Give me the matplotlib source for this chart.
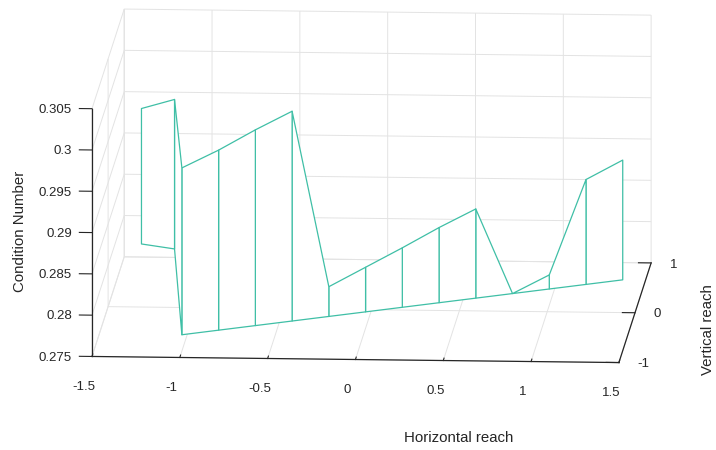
import numpy as np
import matplotlib
matplotlib.use('Agg')
import matplotlib.pyplot as plt

plt.rcParams['font.family'] = ['Liberation Sans', 'DejaVu Sans']

# sample points along the reach path
horiz = [-1.25, -1.07, -1.03, -0.83, -0.63, -0.43, -0.23, -0.03,
         0.17, 0.37, 0.57, 0.77, 0.97, 1.17, 1.37]
vert = [-0.655, -0.565, -0.545, -0.445, -0.345, -0.245, -0.145, -0.045,
        0.055, 0.155, 0.255, 0.355, 0.455, 0.555, 0.655]
cond_top = [0.3030, 0.3036, 0.2952, 0.2968, 0.2987, 0.3004, 0.2786, 0.2804,
            0.2822, 0.2841, 0.2858, 0.2750, 0.2767, 0.2877, 0.2895]
cond_base = [0.2866, 0.2855, 0.275, 0.275, 0.275, 0.275, 0.275, 0.275,
             0.275, 0.275, 0.275, 0.275, 0.275, 0.275, 0.275]

x_ticks = [-1.5, -1, -0.5, 0, 0.5, 1, 1.5]
x_labels = ['-1.5', '-1', '-0.5', '0', '0.5', '1', '1.5']
y_ticks = [-1, 0, 1]
y_labels = ['-1', '0', '1']
z_ticks = [0.275, 0.28, 0.285, 0.29, 0.295, 0.3, 0.305]
z_labels = ['0.275', '0.28', '0.285', '0.29', '0.295', '0.3', '0.305']

line_col = '#3fbfa6'
grid_col = '#e3e3e3'
axis_col = '#262626'
text_col = '#262626'

fig = plt.figure(figsize=(7.16, 4.5), dpi=100)
ax = fig.add_axes([0.1962, 0.0736, 0.6285, 1.0], projection='3d', proj_type='ortho')
ax.view_init(elev=10.9, azim=-86.5)
ax.set_box_aspect((1, 1, 0.478), zoom=1.70)

X = np.array([horiz, horiz])
Y = np.array([vert, vert])
Z = np.array([cond_top, cond_base])
surf = ax.plot_surface(X, Y, Z, rstride=1, cstride=1, color='white', shade=False,
                       edgecolor=line_col, linewidth=0.9)
surf.set_clip_on(False)

ax.set_xlim(-1.5, 1.5)
ax.set_ylim(-1, 1)
ax.set_zlim(0.275, 0.305)
ax.set_xticks(x_ticks)
ax.set_xticklabels(x_labels)
ax.set_yticks(y_ticks)
ax.set_yticklabels(y_labels)
ax.set_zticks(z_ticks)
ax.set_zticklabels(z_labels)

for a in (ax.xaxis, ax.yaxis, ax.zaxis):
    a.set_pane_color((1, 1, 1, 0))
    a.pane.set_edgecolor(grid_col)
    a.pane.set_linewidth(0.8)
    a._axinfo['grid']['color'] = grid_col
    a._axinfo['grid']['linewidth'] = 0.7
    a._axinfo['tick']['inward_factor'] = 0.0
    a._axinfo['tick']['outward_factor'] = 0.3
    a._axinfo['axisline']['color'] = axis_col
    a.line.set_color(axis_col)
    a.line.set_linewidth(0.9)
ax.tick_params(colors=text_col, labelsize=9.5, width=0.8)
ax.tick_params(axis='y', pad=-2)
ax.tick_params(axis='x', pad=34)
ax.tick_params(axis='z', pad=-1.6)

# MATLAB-style: z axis on the front-left edge, ticks pointing left,
# tick labels offset only along the tick direction
ax.zaxis.set_ticks_position('lower')
ax.zaxis._get_tickdir = lambda position: 0
ax.zaxis._axmask = lambda: [True, False, False]
ax.yaxis._axmask = lambda: [True, False, False]
ax.xaxis._axmask = lambda: [False, True, False]

for lbl in ax.zaxis.get_majorticklabels():
    lbl.set_va('center_baseline')
    lbl.set_ha('right')
for lbl in ax.yaxis.get_majorticklabels():
    lbl.set_va('center_baseline')
    lbl.set_ha('left')

fig.text(0.640, 0.027, 'Horizontal reach', ha='center', va='center',
         fontsize=10.8, color=text_col)
fig.text(0.989, 0.267, 'Vertical reach', ha='center', va='center',
         rotation=90, fontsize=10.8, color=text_col)
fig.text(0.028, 0.485, 'Condition Number', ha='center', va='center',
         rotation=90, fontsize=10.8, color=text_col)

fig.savefig('out.png', dpi=100)
